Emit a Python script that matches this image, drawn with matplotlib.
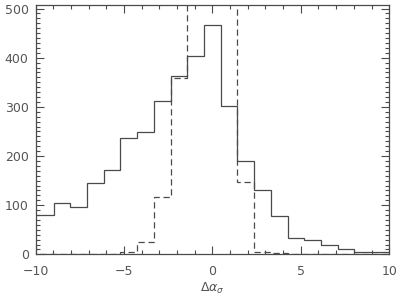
import numpy as np
import matplotlib
matplotlib.use('Agg')
import matplotlib.pyplot as plt
from matplotlib.ticker import MultipleLocator

# bin edges (width ~0.945, one edge at ~1.414)
bin_width = 0.945
edges = 1.414 + bin_width * np.arange(-13, 11)

# solid histogram
solid = [80, 80, 105, 96, 146, 171, 237, 248, 312, 363, 403, 466, 301,
         190, 130, 79, 33, 29, 18, 11, 5, 5, 5]
# dashed histogram (middle bins go off the top of the plot)
dashed = [0, 0, 1, 1, 0, 1, 5, 26, 117, 358, 700, 1000, 700,
          148, 5, 2, 0, 0, 0, 0, 0, 0, 0]

col = '#4a4a4a'
plt.rcParams['font.family'] = 'DejaVu Sans'
plt.rcParams['font.size'] = 9

fig = plt.figure(figsize=(4.0, 3.01), dpi=100)
ax = fig.add_axes([0.089, 0.155, 0.884, 0.828])

ax.stairs(solid, edges, color=col, lw=0.9, baseline=None)
ax.stairs(dashed, edges, color=col, lw=0.9, linestyle=(0, (5, 3)),
          baseline=None)

ax.set_xlim(-10, 10)
ax.set_ylim(0, 507)
ax.xaxis.set_major_locator(MultipleLocator(5))
ax.xaxis.set_minor_locator(MultipleLocator(1))
ax.yaxis.set_major_locator(MultipleLocator(100))
ax.yaxis.set_minor_locator(MultipleLocator(10))

ax.tick_params(which='both', direction='in', top=True, right=True,
               color=col, labelcolor='#555555', width=0.8)
ax.tick_params(which='major', length=6)
ax.tick_params(which='minor', length=3)
ax.tick_params(axis='x', which='major', pad=8)
ax.tick_params(axis='y', which='major', pad=5)
for s in ax.spines.values():
    s.set_color(col)
    s.set_linewidth(0.9)

ax.set_xlabel(r'$\Delta\alpha_\sigma$', color='#555555', labelpad=2)

plt.savefig('out.png', dpi=100)
